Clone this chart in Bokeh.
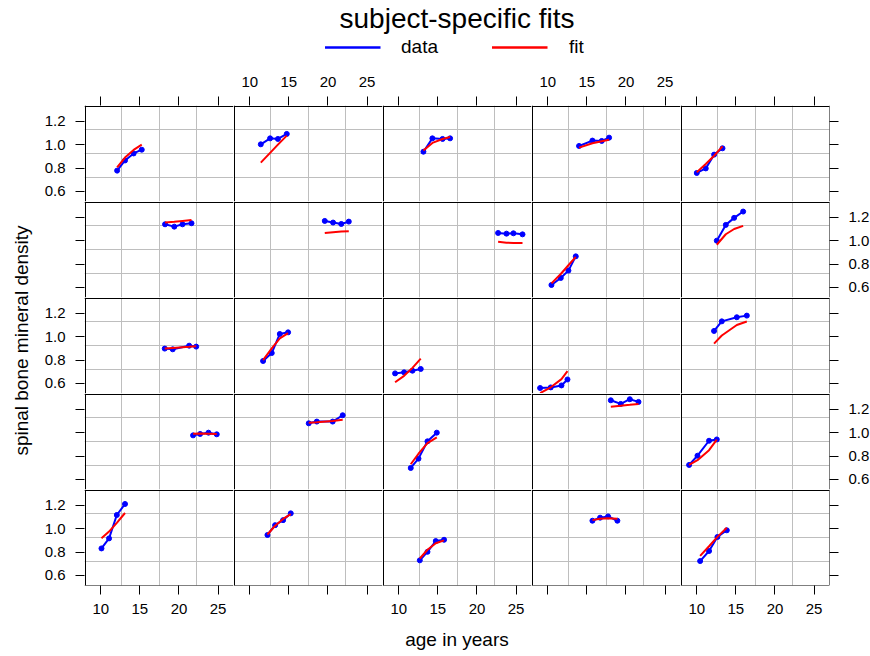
import math
from bokeh.plotting import figure
from bokeh.layouts import gridplot, column, row
from bokeh.models import (Range1d, LinearAxis, FixedTicker, Grid, Legend,
                          LegendItem, NumeralTickFormatter)
from bokeh.core.properties import value
from bokeh.embed import file_html
from bokeh.resources import INLINE

# ---------------- data (panels in reading order, top-left to bottom-right) ----
TITLE = "subject-specific fits"
XLABEL = "age in years"
YLABEL = "spinal bone mineral density"
SERIES = ["data", "fit"]
X_TICKS = [10, 15, 20, 25]
Y_TICKS = [0.6, 0.8, 1.0, 1.2]

AGE = [
    [12.09, 13.1, 14.2, 15.24], [11.41, 12.6, 13.6, 14.73], [13.15, 14.3, 15.6, 16.56],
    [14.0, 15.71, 16.9, 17.84], [10.0, 11.15, 12.22, 13.29],
    [18.22, 19.4, 20.45, 21.6], [19.59, 20.65, 21.7, 22.66], [22.7, 23.77, 24.66, 25.82],
    [10.47, 11.66, 12.64, 13.58], [12.56, 13.71, 14.78, 15.93],
    [18.18, 19.2, 21.3, 22.2], [11.7, 12.81, 13.84, 14.9], [9.53, 10.68, 11.75, 12.81],
    [9.02, 10.38, 11.75, 12.52], [12.21, 13.2, 15.12, 16.4],
    [21.8, 22.7, 23.77, 24.83], [17.54, 18.57, 20.6, 21.88], [11.53, 12.52, 13.67, 14.86],
    [18.06, 19.33, 20.49, 21.6], [9.02, 10.09, 11.57, 12.56],
    [10.09, 11.06, 12.05, 13.1], [12.26, 13.24, 14.26, 15.24], [12.69, 13.67, 14.73, 15.79],
    [15.71, 16.69, 17.71, 18.9], [10.43, 11.57, 12.64, 13.84],
]
BMD = [
    [0.778, 0.865, 0.925, 0.957], [1.003, 1.054, 1.049, 1.092], [0.94, 1.054, 1.049, 1.054],
    [0.989, 1.035, 1.032, 1.06], [0.758, 0.797, 0.915, 0.969],
    [1.14, 1.12, 1.14, 1.149], [1.169, 1.155, 1.143, 1.163], [1.066, 1.06, 1.063, 1.054],
    [0.621, 0.681, 0.744, 0.866], [1.0, 1.135, 1.195, 1.249],
    [0.898, 0.892, 0.923, 0.915], [0.792, 0.86, 1.023, 1.037], [0.686, 0.695, 0.709, 0.724],
    [0.561, 0.566, 0.583, 0.634], [1.049, 1.131, 1.166, 1.18],
    [0.977, 0.989, 1.0, 0.986], [1.08, 1.095, 1.095, 1.149], [0.698, 0.778, 0.926, 1.0],
    [1.277, 1.246, 1.286, 1.263], [0.724, 0.803, 0.931, 0.942],
    [0.831, 0.917, 1.117, 1.211], [0.946, 1.03, 1.073, 1.131], [0.729, 0.802, 0.894, 0.905],
    [1.068, 1.094, 1.105, 1.068], [0.723, 0.809, 0.929, 0.986],
]
FIT = [
    [0.806, 0.89, 0.955, 1.0], [0.846, 0.93, 1.0, 1.077], [0.95, 1.015, 1.048, 1.065],
    [0.975, 1.012, 1.03, 1.042], [0.765, 0.835, 0.905, 0.985],
    [1.155, 1.162, 1.169, 1.176], [1.066, 1.073, 1.078, 1.081], [0.99, 0.983, 0.981, 0.981],
    [0.635, 0.715, 0.79, 0.862], [0.965, 1.055, 1.1, 1.127],
    [0.898, 0.903, 0.913, 0.918], [0.80, 0.90, 0.985, 1.03], [0.61, 0.665, 0.733, 0.812],
    [0.517, 0.567, 0.637, 0.705], [0.94, 1.01, 1.1, 1.13],
    [0.99, 0.992, 0.991, 0.989], [1.085, 1.09, 1.1, 1.11], [0.73, 0.82, 0.91, 0.96],
    [1.222, 1.23, 1.238, 1.246], [0.725, 0.765, 0.85, 0.94],
    [0.918, 0.975, 1.05, 1.134], [0.95, 1.025, 1.083, 1.125], [0.745, 0.82, 0.875, 0.9],
    [1.073, 1.085, 1.09, 1.085], [0.767, 0.85, 0.93, 1.008],
]

# ---------------- layout / style ----------------
XLIM = (7.92, 26.97)
YLIM = (0.514, 1.335)
NROW, NCOL = 5, 5
FW, FH = 149, 96
HEADER_H = 60
YLAB_W = 38
B_LEFT, B_RIGHT, B_TOP, B_BOTTOM = 46, 40, 45, 70
FONT = "Liberation Sans"
BLUE, RED, GRIDC = "#0000FF", "#FF0000", "#BEBEBE"
STANDOFF = {"above": 10, "below": 9, "left": 10, "right": 10}

XGRID = [XLIM[0] + k * (XLIM[1] - XLIM[0]) / 4 for k in (1, 2, 3)]
YGRID = [YLIM[0] + k * (YLIM[1] - YLIM[0]) / 4 for k in (1, 2, 3)]
# half a pixel, in data units, so border lines fall on whole pixels inside the frame
HALF_X = 0.5 * (XLIM[1] - XLIM[0]) / FW
HALF_Y = 0.5 * (YLIM[1] - YLIM[0]) / FH


def strip_grids(p):
    p.center = [g for g in p.center if not isinstance(g, Grid)]


def make_axis(kind, labeled, side):
    ticks = X_TICKS if kind == "x" else Y_TICKS
    fmt = "0" if kind == "x" else "0.0"
    ax = LinearAxis(ticker=FixedTicker(ticks=ticks), formatter=NumeralTickFormatter(format=fmt))
    ax.major_tick_in = 0
    ax.major_tick_out = 9
    ax.minor_tick_in = 0
    ax.minor_tick_out = 0
    ax.major_tick_line_color = "black"
    ax.major_tick_line_width = 1
    ax.axis_line_color = None
    ax.major_label_text_font = FONT
    ax.major_label_text_font_size = "15px"
    ax.major_label_text_color = "black" if labeled else None
    ax.major_label_standoff = STANDOFF[side]
    return ax


rows = []
for r in range(NROW):
    figs = []
    for c in range(NCOL):
        k = r * NCOL + c
        p = figure(frame_width=FW, frame_height=FH,
                   x_range=Range1d(*XLIM), y_range=Range1d(*YLIM),
                   x_axis_location=None, y_axis_location=None,
                   toolbar_location=None, output_backend="svg",
                   min_border_left=B_LEFT if c == 0 else 0,
                   min_border_right=B_RIGHT if c == NCOL - 1 else 0,
                   min_border_top=B_TOP if r == 0 else 0,
                   min_border_bottom=B_BOTTOM if r == NROW - 1 else 0)
        strip_grids(p)
        p.outline_line_color = None
        p.background_fill_color = "white"
        p.border_fill_color = "white"
        p.add_layout(Grid(dimension=0, ticker=FixedTicker(ticks=XGRID),
                          grid_line_color=GRIDC, grid_line_width=1), "center")
        p.add_layout(Grid(dimension=1, ticker=FixedTicker(ticks=YGRID),
                          grid_line_color=GRIDC, grid_line_width=1), "center")
        # panel borders: left & top edge of every panel, plus outer right / bottom
        ex = [XLIM[0] + HALF_X] + ([XLIM[1] - HALF_X] if c == NCOL - 1 else [])
        ey = [YLIM[1] - HALF_Y] + ([YLIM[0] + HALF_Y] if r == NROW - 1 else [])
        p.add_layout(Grid(dimension=0, ticker=FixedTicker(ticks=ex),
                          grid_line_color="black", grid_line_width=1), "center")
        p.add_layout(Grid(dimension=1, ticker=FixedTicker(ticks=ey),
                          grid_line_color="black", grid_line_width=1), "center")
        if r == 0:
            p.add_layout(make_axis("x", c % 2 == 1, "above"), "above")
        if r == NROW - 1:
            ax = make_axis("x", c % 2 == 0, "below")
            if c == 2:
                ax.axis_label = XLABEL
                ax.axis_label_text_font = FONT
                ax.axis_label_text_font_size = "19px"
                ax.axis_label_text_font_style = "normal"
                ax.axis_label_text_color = "black"
                ax.axis_label_standoff = 12
            p.add_layout(ax, "below")
        if c == 0:
            p.add_layout(make_axis("y", r % 2 == 0, "left"), "left")
        if c == NCOL - 1:
            p.add_layout(make_axis("y", r % 2 == 1, "right"), "right")

        p.line(AGE[k], BMD[k], line_color=BLUE, line_width=2)
        p.scatter(AGE[k], BMD[k], size=5, fill_color=BLUE, line_color=BLUE)
        p.line(AGE[k], FIT[k], line_color=RED, line_width=2)
        figs.append(p)
    rows.append(figs)

grid = gridplot(rows, toolbar_location=None)

# ---------------- y label ----------------
GRID_H = B_TOP + NROW * FH + B_BOTTOM
ylab = figure(width=YLAB_W, height=GRID_H, x_range=Range1d(0, YLAB_W),
              y_range=Range1d(GRID_H, 0), min_border=0,
              x_axis_location=None, y_axis_location=None,
              toolbar_location=None, output_backend="svg")
strip_grids(ylab)
ylab.outline_line_color = None
ylab.text(x=[20.5], y=[B_TOP + NROW * FH / 2 - 5], text=[YLABEL], angle=math.pi / 2,
          text_align="center", text_baseline="middle",
          text_font=value(FONT), text_font_size="19px", text_color="black")

# ---------------- header: title + legend ----------------
TOTAL_W = YLAB_W + B_LEFT + NCOL * FW + B_RIGHT
hdr = figure(width=TOTAL_W, height=HEADER_H, title=TITLE,
             x_range=Range1d(0, 1), y_range=Range1d(0, 1),
             min_border_left=YLAB_W + B_LEFT, min_border_right=B_RIGHT,
             min_border_top=0, min_border_bottom=0,
             x_axis_location=None, y_axis_location=None,
             toolbar_location=None, output_backend="svg")
strip_grids(hdr)
hdr.outline_line_color = None
hdr.title.align = "center"
hdr.title.text_font = FONT
hdr.title.text_font_size = "28px"
hdr.title.text_font_style = "normal"
hdr.title.text_color = "black"
hdr.title.standoff = 0
NAN = [float("nan")]
r_data = hdr.line(NAN, NAN, line_color=BLUE, line_width=2.5)
r_fit = hdr.line(NAN, NAN, line_color=RED, line_width=2.5)
leg = Legend(items=[LegendItem(label=SERIES[0], renderers=[r_data]),
                    LegendItem(label=SERIES[1], renderers=[r_fit])],
             orientation="horizontal", location="center",
             glyph_width=56, glyph_height=20, label_standoff=21, spacing=54,
             padding=0, margin=0, border_line_color=None,
             background_fill_color=None, label_text_color="black",
             label_text_font=FONT, label_text_font_size="19px")
hdr.add_layout(leg, "center")

layout = column(hdr, row(ylab, grid))
open("out.html", "w").write(file_html(layout, INLINE))
